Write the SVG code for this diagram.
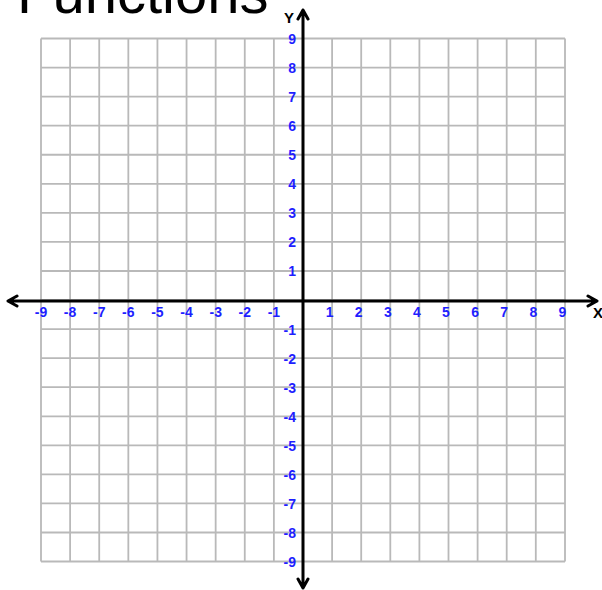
<svg xmlns="http://www.w3.org/2000/svg" width="602" height="590" viewBox="0 0 602 590">
<style>
.grid{fill:none;stroke:#b9b9b9;stroke-width:1.8}
.axis{fill:none;stroke:#000;stroke-width:3;stroke-linecap:round;stroke-linejoin:round}
.num{font-family:"Liberation Sans",Arial,sans-serif;font-weight:bold;font-size:14px;fill:#1e1eff}
.yl{text-anchor:end}
.xl{text-anchor:middle}
.ax{font-family:"Liberation Sans",Arial,sans-serif;font-weight:bold;font-size:15px;fill:#000}
.title{font-family:"Liberation Sans",Arial,sans-serif;font-size:58px;fill:#000}
</style>
<rect width="602" height="590" fill="#fff"/>
<text class="title" x="17" y="13">Functions</text>
<g id="grid">
<path class="grid" d="M41 38.5V561.5M70.11 38.5V561.5M99.22 38.5V561.5M128.33 38.5V561.5M157.44 38.5V561.5M186.55 38.5V561.5M215.66 38.5V561.5M244.77 38.5V561.5M273.88 38.5V561.5M303 38.5V561.5M332.1 38.5V561.5M361.2 38.5V561.5M390.3 38.5V561.5M419.4 38.5V561.5M448.5 38.5V561.5M477.6 38.5V561.5M506.7 38.5V561.5M535.8 38.5V561.5M565 38.5V561.5"/>
<path class="grid" d="M41 38.5H565M41 67.56H565M41 96.62H565M41 125.68H565M41 154.74H565M41 183.8H565M41 212.86H565M41 241.92H565M41 270.98H565M41 300.04H565M41 329.1H565M41 358.16H565M41 387.22H565M41 416.28H565M41 445.34H565M41 474.4H565M41 503.46H565M41 532.52H565M41 561.5H565"/>
</g>
<g id="axes">
<path class="axis" d="M8 301H597M17 296L8 301L17 306M588 296L597 301L588 306"/>
<path class="axis" d="M303 10V588M298 19L303 10L308 19M298 579L303 588L308 579"/>
<text class="ax" x="284" y="23">Y</text>
<text class="ax" x="593" y="318">X</text>
</g>
<g id="y-labels" class="num">
<text class="yl" x="296" y="44">9</text>
<text class="yl" x="296" y="73">8</text>
<text class="yl" x="296" y="102">7</text>
<text class="yl" x="296" y="131">6</text>
<text class="yl" x="296" y="160">5</text>
<text class="yl" x="296" y="189">4</text>
<text class="yl" x="296" y="218">3</text>
<text class="yl" x="296" y="247">2</text>
<text class="yl" x="296" y="276">1</text>
<text class="yl" x="296" y="335">-1</text>
<text class="yl" x="296" y="364">-2</text>
<text class="yl" x="296" y="393">-3</text>
<text class="yl" x="296" y="422">-4</text>
<text class="yl" x="296" y="451">-5</text>
<text class="yl" x="296" y="480">-6</text>
<text class="yl" x="296" y="509">-7</text>
<text class="yl" x="296" y="538">-8</text>
<text class="yl" x="296" y="567">-9</text>
</g>
<g id="x-labels" class="num">
<text class="xl" x="41" y="317">-9</text>
<text class="xl" x="70.1" y="317">-8</text>
<text class="xl" x="99.2" y="317">-7</text>
<text class="xl" x="128.3" y="317">-6</text>
<text class="xl" x="157.4" y="317">-5</text>
<text class="xl" x="186.5" y="317">-4</text>
<text class="xl" x="215.7" y="317">-3</text>
<text class="xl" x="244.8" y="317">-2</text>
<text class="xl" x="273.9" y="317">-1</text>
<text class="xl" x="329.6" y="317">1</text>
<text class="xl" x="358.7" y="317">2</text>
<text class="xl" x="387.8" y="317">3</text>
<text class="xl" x="416.9" y="317">4</text>
<text class="xl" x="446" y="317">5</text>
<text class="xl" x="475.1" y="317">6</text>
<text class="xl" x="504.2" y="317">7</text>
<text class="xl" x="533.3" y="317">8</text>
<text class="xl" x="562.5" y="317">9</text>
</g>
</svg>
